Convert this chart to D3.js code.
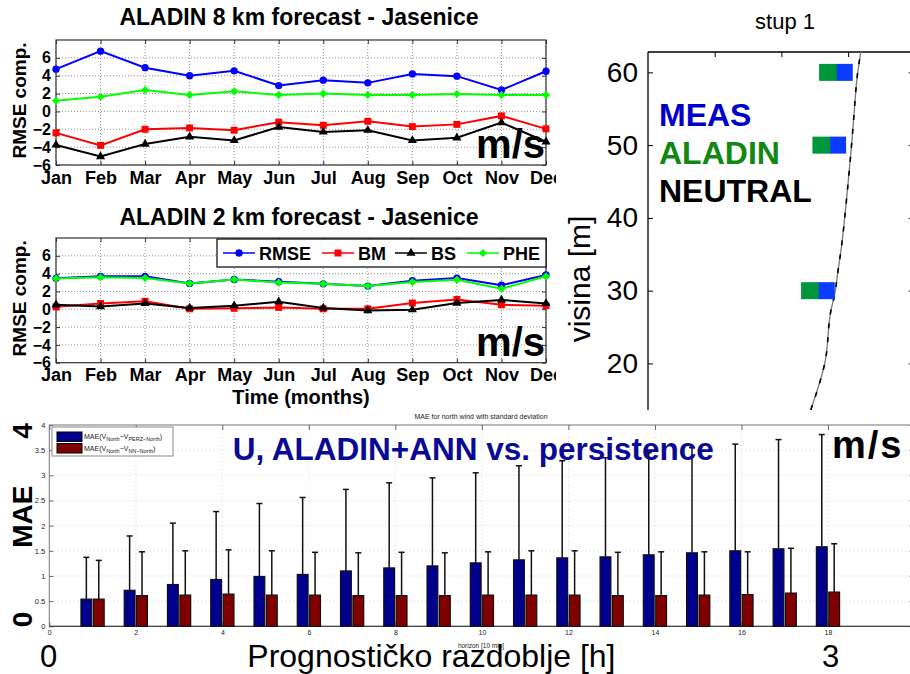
<!DOCTYPE html>
<html>
<head>
<meta charset="utf-8">
<script src="https://cdn.jsdelivr.net/npm/d3@7"></script>
<style>
  html, body { margin: 0; padding: 0; background: #fff; }
  svg { display: block; }
  text { font-family: "Liberation Sans", Arial, Helvetica, sans-serif; }
</style>
</head>
<body>
<svg id="chart" width="910" height="674"></svg>
<script>
// ---------------- DATA ----------------
const months = ["Jan","Feb","Mar","Apr","May","Jun","Jul","Aug","Sep","Oct","Nov","Dec"];
const rmseTicks = [-6,-4,-2,0,2,4,6];

// ALADIN 8 km
const rmse8 = [4.73,6.75,4.9,4.0,4.55,2.9,3.5,3.2,4.2,3.95,2.4,4.5];
const bm8   = [-2.4,-3.8,-2.0,-1.85,-2.1,-1.2,-1.55,-1.1,-1.7,-1.45,-0.5,-1.95];
const bs8   = [-3.75,-5.05,-3.65,-2.85,-3.25,-1.75,-2.3,-2.1,-3.25,-2.95,-1.25,-3.4];
const phe8  = [1.2,1.65,2.4,1.85,2.25,1.85,2.0,1.85,1.85,1.95,1.85,1.85];

// ALADIN 2 km
const rmse2 = [3.47,3.7,3.7,2.9,3.35,3.1,2.85,2.6,3.2,3.5,2.7,3.85];
const bm2   = [0.27,0.65,0.9,0.05,0.1,0.2,0.05,0.05,0.7,1.1,0.5,0.4];
const bs2   = [0.5,0.3,0.65,0.15,0.4,0.85,0.15,-0.15,-0.05,0.7,1.05,0.65];
const phe2  = [3.45,3.6,3.5,2.9,3.35,3.0,2.85,2.6,3.05,3.3,2.3,3.7];

// Profile "stup 1"
const heightTicks = [20,30,40,50,60];
const speedTicks = [1,2,3];
const neutralHeight = [13.6,20,27.6,29.1,32.8,36,40.1,44.8,49.8,54.4,59.7,62.8];
const neutralSpeed  = [2.44,2.65,2.75,2.79,2.85,2.90,2.95,3.00,3.05,3.09,3.14,3.19];
const obsHeight = [30,50,60];
const measSpeed   = [2.68,2.85,2.95];
const aladinSpeed = [2.43,2.60,2.70];

// MAE bars
const horizons = [1,2,3,4,5,6,7,8,9,10,11,12,13,14,15,16,17,18];
const maePerz   = [0.54,0.715,0.83,0.93,0.99,1.03,1.1,1.16,1.2,1.26,1.32,1.36,1.38,1.42,1.46,1.5,1.54,1.58];
const sdPerz    = [0.83,1.08,1.22,1.35,1.45,1.53,1.62,1.69,1.75,1.79,1.87,1.93,1.97,2.03,2.09,2.12,2.17,2.23];
const maeNN     = [0.54,0.61,0.62,0.64,0.62,0.62,0.61,0.61,0.61,0.62,0.62,0.62,0.61,0.61,0.62,0.63,0.66,0.68];
const sdNN      = [0.77,0.87,0.88,0.88,0.88,0.85,0.85,0.86,0.85,0.86,0.88,0.88,0.86,0.87,0.86,0.85,0.89,0.96];
const maeTicks = [0,0.5,1,1.5,2,2.5,3,3.5,4];
const horizonTicks = [0,2,4,6,8,10,12,14,16,18,20];
const horizonLabels = [0,2,4,6,8,10,12,14,16,18];

// ---------------- DRAW ----------------
const svg = d3.select("#chart");
const defs = svg.append("defs");
defs.append("clipPath").attr("id","clipLeft").append("rect").attr("x",0).attr("y",0).attr("width",556).attr("height",410);
defs.append("clipPath").attr("id","clipRight").append("rect").attr("x",556).attr("y",0).attr("width",354).attr("height",410);
defs.append("clipPath").attr("id","clipBottom").append("rect").attr("x",0).attr("y",410).attr("width",910).attr("height",264);

const diamond = d3.symbolDiamond2 || d3.symbolDiamond;
function seriesDefs(r, b, s, p) {
  return [
    {name:"RMSE", values:r, color:"#0000ff", symbol:d3.symbolCircle, size:42},
    {name:"BM",   values:b, color:"#ff0000", symbol:d3.symbolSquare, size:48},
    {name:"BS",   values:s, color:"#000000", symbol:d3.symbolTriangle, size:36},
    {name:"PHE",  values:p, color:"#00ff00", symbol:diamond, size:42}
  ];
}

function rmsePanel(g, cfg) {
  const x = d3.scalePoint().domain(months).range([56, 546]);
  const y = d3.scaleLinear().domain([-6, 8]).range([cfg.bottom, cfg.top]);
  const L = 56, R = 546;

  // grid
  const grid = g.append("g").attr("stroke", "#777").attr("stroke-width", 0.8).attr("stroke-dasharray", "1,2");
  months.forEach(m => grid.append("line").attr("x1", x(m)).attr("x2", x(m)).attr("y1", cfg.top).attr("y2", cfg.bottom));
  rmseTicks.forEach(t => grid.append("line").attr("x1", L).attr("x2", R).attr("y1", y(t)).attr("y2", y(t)));

  // axes
  const ax = d3.axisBottom(x).tickSize(-4).tickPadding(6);
  const gb = g.append("g").attr("transform", `translate(0,${cfg.bottom})`).call(ax);
  gb.selectAll("text").attr("font-size", 18).attr("font-weight", "bold").attr("fill", "#000");
  const gt = g.append("g").attr("transform", `translate(0,${cfg.top})`).call(d3.axisTop(x).tickSize(-4).tickFormat(""));
  const gl = g.append("g").attr("transform", `translate(${L},0)`).call(d3.axisLeft(y).tickValues(rmseTicks).tickSize(-4).tickPadding(5));
  gl.selectAll("text").attr("font-size", 16).attr("font-weight", "bold").attr("fill", "#000");
  const gr = g.append("g").attr("transform", `translate(${R},0)`).call(d3.axisRight(y).tickValues(rmseTicks).tickSize(-4).tickFormat(""));
  [gb, gt, gl, gr].forEach(a => { a.select(".domain").remove(); a.selectAll("line").attr("stroke", "#333"); });
  g.append("rect").attr("x", L).attr("y", cfg.top).attr("width", R - L).attr("height", cfg.bottom - cfg.top)
    .attr("fill", "none").attr("stroke", "#333").attr("stroke-width", 1.2);

  // series
  const series = seriesDefs(...cfg.data);
  const line = d3.line().x((d, i) => x(months[i])).y(d => y(d));
  series.forEach(s => {
    g.append("path").datum(s.values).attr("d", line).attr("fill", "none").attr("stroke", s.color).attr("stroke-width", 2);
    g.selectAll(null).data(s.values).enter().append("path")
      .attr("d", d3.symbol().type(s.symbol).size(s.size))
      .attr("transform", (d, i) => `translate(${x(months[i])},${y(d)})`)
      .attr("fill", s.color);
  });

  // title
  g.append("text").attr("x", 299).attr("y", cfg.titleY).attr("text-anchor", "middle")
    .attr("font-size", 23).attr("font-weight", "bold").text(cfg.title);
  // y label
  g.append("text").attr("transform", `translate(26,${(cfg.top + cfg.bottom) / 2 - 2}) rotate(-90)`)
    .attr("text-anchor", "middle").attr("font-size", 19).attr("font-weight", "bold").text("RMSE comp.");
  // m/s
  g.append("text").attr("x", 545).attr("y", cfg.bottom - 7).attr("text-anchor", "end")
    .attr("font-size", 40).attr("font-weight", "bold").text("m/s");

  if (cfg.legend) {
    const lg = g.append("g");
    lg.append("rect").attr("x", 217).attr("y", 239).attr("width", 329).attr("height", 28)
      .attr("fill", "#fff").attr("stroke", "#000").attr("stroke-width", 1.2);
    const lx = [223, 322, 395, 467];
    series.forEach((s, i) => {
      lg.append("line").attr("x1", lx[i]).attr("x2", lx[i] + 32).attr("y1", 253).attr("y2", 253)
        .attr("stroke", s.color).attr("stroke-width", 1.5);
      lg.append("path").attr("d", d3.symbol().type(s.symbol).size(s.size))
        .attr("transform", `translate(${lx[i] + 16},253)`).attr("fill", s.color);
      lg.append("text").attr("x", lx[i] + 36).attr("y", 260).attr("font-size", 18).attr("font-weight", "bold").text(s.name);
    });
  }
  if (cfg.xlabel) {
    g.append("text").attr("x", 301).attr("y", 404).attr("text-anchor", "middle")
      .attr("font-size", 20).attr("font-weight", "bold").text("Time (months)");
  }
}

const left = svg.append("g").attr("clip-path", "url(#clipLeft)");
rmsePanel(left.append("g"), {title: "ALADIN 8 km forecast - Jasenice", titleY: 25, top: 40, bottom: 165, data: [rmse8, bm8, bs8, phe8], legend: false, xlabel: false});
rmsePanel(left.append("g"), {title: "ALADIN 2 km forecast - Jasenice", titleY: 225, top: 238, bottom: 362.7, data: [rmse2, bm2, bs2, phe2], legend: true, xlabel: true});

// ---------- right panel: stup 1 ----------
(function () {
  const g = svg.append("g").attr("clip-path", "url(#clipRight)");
  const x = d3.scaleLinear().domain([0, 4]).range([648, 914.8]);
  const y = d3.scaleLinear().domain([13.6, 62.8]).range([410, 52]);

  g.append("text").attr("x", 785).attr("y", 29).attr("text-anchor", "middle").attr("font-size", 22).text("stup 1");

  const gl = g.append("g").attr("transform", "translate(648,0)").call(d3.axisLeft(y).tickValues(heightTicks).tickSize(-5).tickPadding(10));
  gl.selectAll("text").attr("font-size", 28).attr("fill", "#000");
  const gt = g.append("g").attr("transform", "translate(0,52)").call(d3.axisTop(x).tickValues(speedTicks).tickSize(-5).tickFormat(""));
  const gr = g.append("g").attr("transform", "translate(914.8,0)").call(d3.axisRight(y).tickValues(heightTicks).tickSize(-6).tickFormat(""));
  [gl, gt, gr].forEach(a => { a.select(".domain").remove(); a.selectAll("line").attr("stroke", "#000"); });
  g.append("line").attr("x1", 648).attr("x2", 648).attr("y1", 52).attr("y2", 410).attr("stroke", "#000").attr("stroke-width", 1.3);
  g.append("line").attr("x1", 648).attr("x2", 914.8).attr("y1", 52).attr("y2", 52).attr("stroke", "#000").attr("stroke-width", 1.3);

  g.append("text").attr("transform", "translate(590,279) rotate(-90)").attr("text-anchor", "middle")
    .attr("font-size", 30).text("visina [m]");

  const prof = neutralHeight.map((z, i) => [neutralSpeed[i], z]);
  const line = d3.line().x(d => x(d[0])).y(d => y(d[1])).curve(d3.curveMonotoneY);
  g.append("path").datum(prof).attr("d", line).attr("fill", "none").attr("stroke", "#777").attr("stroke-width", 1.3);
  g.append("path").datum(prof).attr("d", line).attr("fill", "none").attr("stroke", "#000").attr("stroke-width", 1.6).attr("stroke-dasharray", "5,9");

  obsHeight.forEach((z, i) => {
    g.append("rect").attr("x", x(aladinSpeed[i]) - 9).attr("y", y(z) - 8.5).attr("width", 18).attr("height", 17).attr("fill", "#00963c");
    g.append("rect").attr("x", x(measSpeed[i]) - 8).attr("y", y(z) - 8.5).attr("width", 16).attr("height", 17).attr("fill", "#0a3cff");
  });

  const lab = [["MEAS", "#0000cc", 126], ["ALADIN", "#118811", 164], ["NEUTRAL", "#000000", 202]];
  lab.forEach(l => g.append("text").attr("x", 659).attr("y", l[2]).attr("font-family", "DejaVu Sans")
    .attr("font-weight", "bold").attr("font-size", 32).attr("fill", l[1]).text(l[0]));
})();

// ---------- bottom panel: MAE ----------
(function () {
  const g = svg.append("g").attr("clip-path", "url(#clipBottom)");
  const x = d3.scaleLinear().domain([0, 20]).range([49.3, 914.5]);
  const y = d3.scaleLinear().domain([0, 4]).range([626.3, 425]);
  const sub = d3.scaleBand().domain(["perz", "nn"]).range([-11.6, 11.6]).paddingInner(0.13);
  const L = 49.3, R = 914.5, T = 425, B = 626.3;

  // grid
  const grid = g.append("g").attr("stroke", "#c8c8c8").attr("stroke-width", 0.8).attr("stroke-dasharray", "1,3");
  maeTicks.slice(1, -1).forEach(t => grid.append("line").attr("x1", L).attr("x2", R).attr("y1", y(t)).attr("y2", y(t)));
  horizonTicks.slice(1).forEach(t => grid.append("line").attr("x1", x(t)).attr("x2", x(t)).attr("y1", T).attr("y2", B));

  const gb = g.append("g").attr("transform", `translate(0,${B})`).call(d3.axisBottom(x).tickValues(horizonLabels).tickSize(-4).tickPadding(4));
  gb.selectAll("text").attr("font-size", 7).attr("fill", "#222");
  const gt = g.append("g").attr("transform", `translate(0,${T})`).call(d3.axisTop(x).tickValues(horizonTicks).tickSize(-5).tickFormat(""));
  const gl = g.append("g").attr("transform", `translate(${L},0)`).call(d3.axisLeft(y).tickValues(maeTicks).tickSize(-4).tickPadding(4).tickFormat(d => String(d)));
  gl.selectAll("text").attr("font-size", 7.5).attr("fill", "#222");
  const gr = g.append("g").attr("transform", `translate(${R},0)`).call(d3.axisRight(y).tickValues(maeTicks).tickSize(-5).tickFormat(""));
  [gb, gt, gl, gr].forEach(a => { a.select(".domain").remove(); a.selectAll("line").attr("stroke", "#666"); });
  g.append("rect").attr("x", L).attr("y", T).attr("width", R - L).attr("height", B - T)
    .attr("fill", "none").attr("stroke", "#777").attr("stroke-width", 1);
  g.append("line").attr("x1", L).attr("x2", R).attr("y1", B).attr("y2", B).attr("stroke", "#333").attr("stroke-width", 1);

  const groups = [
    {key: "perz", mean: maePerz, sd: sdPerz, color: "#00008f"},
    {key: "nn", mean: maeNN, sd: sdNN, color: "#800000"}
  ];
  groups.forEach(gr2 => {
    const cx = i => x(horizons[i]) + sub(gr2.key) + sub.bandwidth() / 2;
    g.selectAll(null).data(gr2.mean).enter().append("rect")
      .attr("x", (d, i) => x(horizons[i]) + sub(gr2.key))
      .attr("y", d => y(d)).attr("width", sub.bandwidth()).attr("height", d => y(0) - y(d))
      .attr("fill", gr2.color).attr("stroke", "#111").attr("stroke-width", 1.2);
    g.selectAll(null).data(gr2.mean).enter().append("line")
      .attr("x1", (d, i) => cx(i)).attr("x2", (d, i) => cx(i))
      .attr("y1", d => y(d)).attr("y2", (d, i) => y(d + gr2.sd[i]))
      .attr("stroke", "#111").attr("stroke-width", 1.5);
    g.selectAll(null).data(gr2.mean).enter().append("line")
      .attr("x1", (d, i) => cx(i) - 3).attr("x2", (d, i) => cx(i) + 3)
      .attr("y1", (d, i) => y(d + gr2.sd[i])).attr("y2", (d, i) => y(d + gr2.sd[i]))
      .attr("stroke", "#111").attr("stroke-width", 1.5);
  });

  // small texts
  g.append("text").attr("x", 481).attr("y", 419).attr("text-anchor", "middle").attr("font-size", 7).attr("fill", "#222")
    .text("MAE for north wind with standard deviation");
  g.append("text").attr("x", 481).attr("y", 648).attr("text-anchor", "middle").attr("font-size", 6.5).attr("fill", "#222")
    .text("horizon [10 min]");

  // legend
  const lg = g.append("g");
  lg.append("rect").attr("x", 52).attr("y", 427).attr("width", 121).attr("height", 29)
    .attr("fill", "#fff").attr("stroke", "#888").attr("stroke-width", 1);
  const legItems = [["PERZ\u2212North", "#00008f", 432], ["NN\u2212North", "#800000", 443.5]];
  legItems.forEach(it => {
    lg.append("rect").attr("x", 57).attr("y", it[2]).attr("width", 25).attr("height", 9.5)
      .attr("fill", it[1]).attr("stroke", "#000").attr("stroke-width", 1);
    const t = lg.append("text").attr("x", 84).attr("y", it[2] + 7).attr("font-size", 7).attr("fill", "#222");
    t.append("tspan").text("MAE(V");
    t.append("tspan").attr("font-size", 5.5).attr("dy", 2).text("North");
    t.append("tspan").attr("dy", -2).text("\u2212V");
    t.append("tspan").attr("font-size", 5.5).attr("dy", 2).text(it[0]);
    t.append("tspan").attr("dy", -2).text(")");
  });

  // overlay texts
  g.append("text").attr("x", 232.7).attr("y", 460).attr("font-size", 31.5).attr("font-weight", "bold").attr("fill", "#0a0a96")
    .text("U, ALADIN+ANN vs. persistence");
  g.append("text").attr("x", 832).attr("y", 458).attr("font-size", 38).attr("font-weight", "bold").attr("letter-spacing", 2).text("m/s");
  g.append("text").attr("transform", "translate(31.5,516.7) rotate(-90)").attr("text-anchor", "middle")
    .attr("font-size", 28).attr("font-weight", "bold").text("MAE");
  g.append("text").attr("transform", "translate(31.5,431) rotate(-90)").attr("text-anchor", "middle")
    .attr("font-size", 28).attr("font-weight", "bold").text("4");
  g.append("text").attr("transform", "translate(31.5,619.5) rotate(-90)").attr("text-anchor", "middle")
    .attr("font-size", 28).attr("font-weight", "bold").text("0");
  g.append("text").attr("x", 40).attr("y", 667).attr("font-size", 31).text("0");
  g.append("text").attr("x", 247.3).attr("y", 667).attr("font-size", 32).text("Prognostičko razdoblje [h]");
  g.append("text").attr("x", 822).attr("y", 667).attr("font-size", 31).text("3");
})();
</script>
</body>
</html>
